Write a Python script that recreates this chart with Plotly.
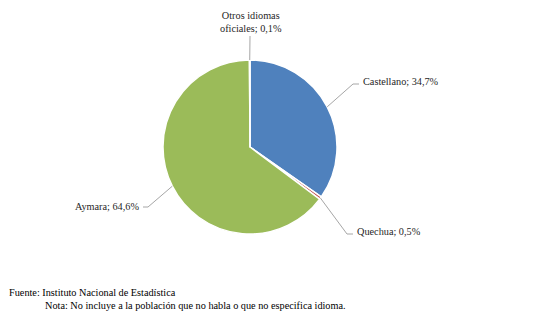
import math
import plotly.graph_objects as go

W, H = 539, 319

# Data
categories = ["Castellano", "Quechua", "Aymara", "Otros idiomas<br>oficiales"]
values = [34.7, 0.5, 64.6, 0.1]
value_labels = ["34,7%", "0,5%", "64,6%", "0,1%"]
colors = ["#4F81BD", "#C0504D", "#9BBB59", "#8064A2"]

FONT = "Liberation Serif"
FS = 10.25

# Layout (pixels)
cx, cy, r = 250, 147, 87
label_layout = [
    dict(tx=361, ty=81, xa="left", ya="middle", elbow=(353, 84), end=(359, 84)),
    dict(tx=355, ty=231, xa="left", ya="middle", elbow=(347, 234), end=(353, 234)),
    dict(tx=141, ty=206, xa="right", ya="middle", elbow=(148, 207), end=(143, 207)),
    dict(tx=251, ty=36, xa="center", ya="bottom", elbow=None, end=(250, 36)),
]

def px(x):
    return x / W

def py(y):
    return 1 - y / H

fig = go.Figure(go.Pie(
    labels=[c.replace("<br>", " ") for c in categories],
    values=values,
    sort=False,
    direction="clockwise",
    rotation=0,
    textinfo="none",
    hoverinfo="label+percent",
    marker=dict(colors=colors, line=dict(color="white", width=1.5)),
    domain=dict(x=[px(cx - r), px(cx + r)], y=[py(cy + r), py(cy - r)]),
    showlegend=False,
))

total = sum(values)
shapes = []
annotations = []
cum = 0.0
for cat, v, vl, lay in zip(categories, values, value_labels, label_layout):
    mid = (cum + v / 2) / total * 2 * math.pi
    cum += v
    ex = cx + r * math.sin(mid)
    ey = cy - r * math.cos(mid)
    pts = [(ex, ey)]
    if lay["elbow"] is not None:
        pts.append(lay["elbow"])
    pts.append(lay["end"])
    path = "M " + " L ".join(f"{px(a)},{py(b)}" for a, b in pts)
    shapes.append(dict(type="path", path=path, xref="paper", yref="paper",
                       line=dict(color="#A6A6A6", width=1)))
    annotations.append(dict(x=px(lay["tx"]), y=py(lay["ty"]), xref="paper", yref="paper",
                            text=f"{cat}; {vl}", showarrow=False,
                            xanchor=lay["xa"], yanchor=lay["ya"], align="center",
                            font=dict(family=FONT, size=FS, color="#262626")))

annotations.append(dict(x=px(7), y=py(292), xref="paper", yref="paper",
                        text="Fuente: Instituto Nacional de Estadística", showarrow=False,
                        xanchor="left", yanchor="middle",
                        font=dict(family=FONT, size=FS, color="#000000")))
annotations.append(dict(x=px(43), y=py(305), xref="paper", yref="paper",
                        text="Nota: No incluye a la población que no habla o que no especifica idioma.",
                        showarrow=False, xanchor="left", yanchor="middle",
                        font=dict(family=FONT, size=FS, color="#000000")))

fig.update_layout(
    width=W, height=H,
    margin=dict(l=0, r=0, t=0, b=0),
    paper_bgcolor="white", plot_bgcolor="white",
    font=dict(family=FONT),
    shapes=shapes, annotations=annotations,
)

fig.write_html("out.html")
